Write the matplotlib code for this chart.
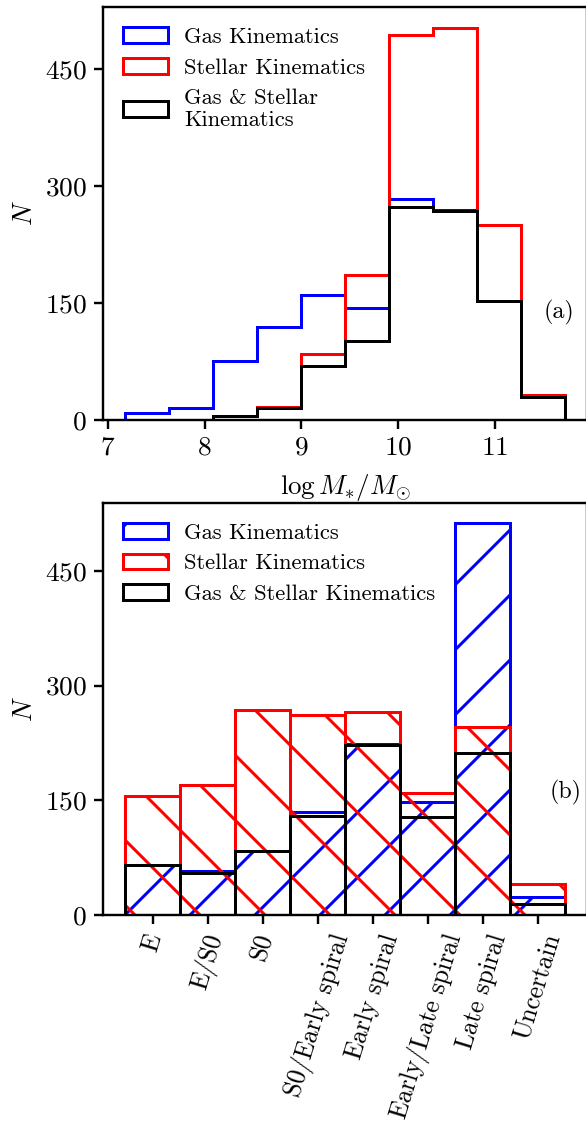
import numpy as np
import matplotlib
matplotlib.use('Agg')
import matplotlib.pyplot as plt

# top panel: stellar mass histogram counts (10 bins)
mass_edges = np.linspace(7.18, 11.72, 11)
mass_gas = [9, 16, 76, 119, 160, 144, 283, 270, 153, 29]
mass_stellar = [0, 0, 5, 17, 85, 186, 494, 503, 250, 32]
mass_both = [0, 0, 5, 16, 69, 102, 273, 268, 153, 29]

# bottom panel: morphology counts
morph_labels = ['E', 'E/S0', 'S0', 'S0/Early spiral', 'Early spiral',
                'Early/Late spiral', 'Late spiral', 'Uncertain']
morph_gas = [66, 57, 84, 134, 224, 148, 513, 23]
morph_stellar = [156, 170, 268, 261, 266, 159, 246, 41]
morph_both = [65, 55, 84, 130, 222, 128, 212, 14]

DPI = 195
PT = 72.0 / DPI  # points per pixel

plt.rcParams['font.family'] = ['cmr10', 'DejaVu Serif']
plt.rcParams['mathtext.fontset'] = 'cm'
plt.rcParams['axes.formatter.use_mathtext'] = True
plt.rcParams['axes.linewidth'] = 2.4 * PT
plt.rcParams['hatch.linewidth'] = 3.0 * PT
for a in ('xtick', 'ytick'):
    plt.rcParams[a + '.major.width'] = 2.4 * PT
    plt.rcParams[a + '.major.size'] = 9 * PT
    plt.rcParams[a + '.major.pad'] = 7 * PT
    plt.rcParams[a + '.labelsize'] = 27.5 * PT

lw = 3.0 * PT
fig = plt.figure(figsize=(586 / DPI, 1131 / DPI), dpi=DPI)
ax1 = fig.add_axes([103 / 586, 1 - 420 / 1131, 484 / 586, 413 / 1131])
ax2 = fig.add_axes([103 / 586, 1 - 915 / 1131, 484 / 586, 412.3 / 1131])

# (a) mass distribution
x = mass_edges[:-1]
ax1.hist(x, bins=mass_edges, weights=mass_gas, histtype='step', color='blue', lw=lw,
         label='Gas Kinematics')
ax1.hist(x, bins=mass_edges, weights=mass_stellar, histtype='step', color='red', lw=lw,
         label='Stellar Kinematics')
ax1.hist(x, bins=mass_edges, weights=mass_both, histtype='step', color='black', lw=lw,
         label='Gas & Stellar\nKinematics')
ax1.set_xlim(6.95, 11.95)
ax1.set_ylim(0, 530)
ax1.set_yticks([0, 150, 300, 450])
ax1.set_xticks([7, 8, 9, 10, 11])
ax1.set_xlabel(r'$\log M_{*}/M_{\odot}$', fontsize=27 * PT)
ax1.xaxis.set_label_coords(0.5, -0.125)
ax1.set_ylabel('$N$', fontsize=27 * PT)
ax1.yaxis.set_label_coords(-0.137, 0.5)
ax1.legend(loc='upper left', frameon=False, fontsize=22.5 * PT, labelspacing=0.48,
           handlelength=2.0, handletextpad=0.72)
ax1.text(0.942, 0.26, '(a)', transform=ax1.transAxes, ha='center', va='center',
         fontsize=24 * PT)

# (b) morphology
pos = np.arange(len(morph_labels))
ax2.bar(pos, morph_gas, width=1, fill=False, edgecolor='blue', hatch='/', lw=lw,
        label='Gas Kinematics')
ax2.bar(pos, morph_stellar, width=1, fill=False, edgecolor='red', hatch='\\', lw=lw,
        label='Stellar Kinematics')
ax2.bar(pos, morph_both, width=1, fill=False, edgecolor='black', lw=lw,
        label='Gas & Stellar Kinematics')
ax2.set_xlim(-0.9, 7.9)
ax2.set_ylim(0, 539)
ax2.set_yticks([0, 150, 300, 450])
ax2.set_xticks(pos)
ax2.set_xticklabels(morph_labels, rotation=73, fontsize=25.5 * PT)
ax2.set_ylabel('$N$', fontsize=27 * PT)
ax2.yaxis.set_label_coords(-0.137, 0.5)
ax2.legend(loc='upper left', frameon=False, fontsize=22.5 * PT, labelspacing=0.48,
           handlelength=2.0, handletextpad=0.72)
ax2.text(0.955, 0.296, '(b)', transform=ax2.transAxes, ha='center', va='center',
         fontsize=24 * PT)

fig.savefig('out.png', dpi=DPI)
